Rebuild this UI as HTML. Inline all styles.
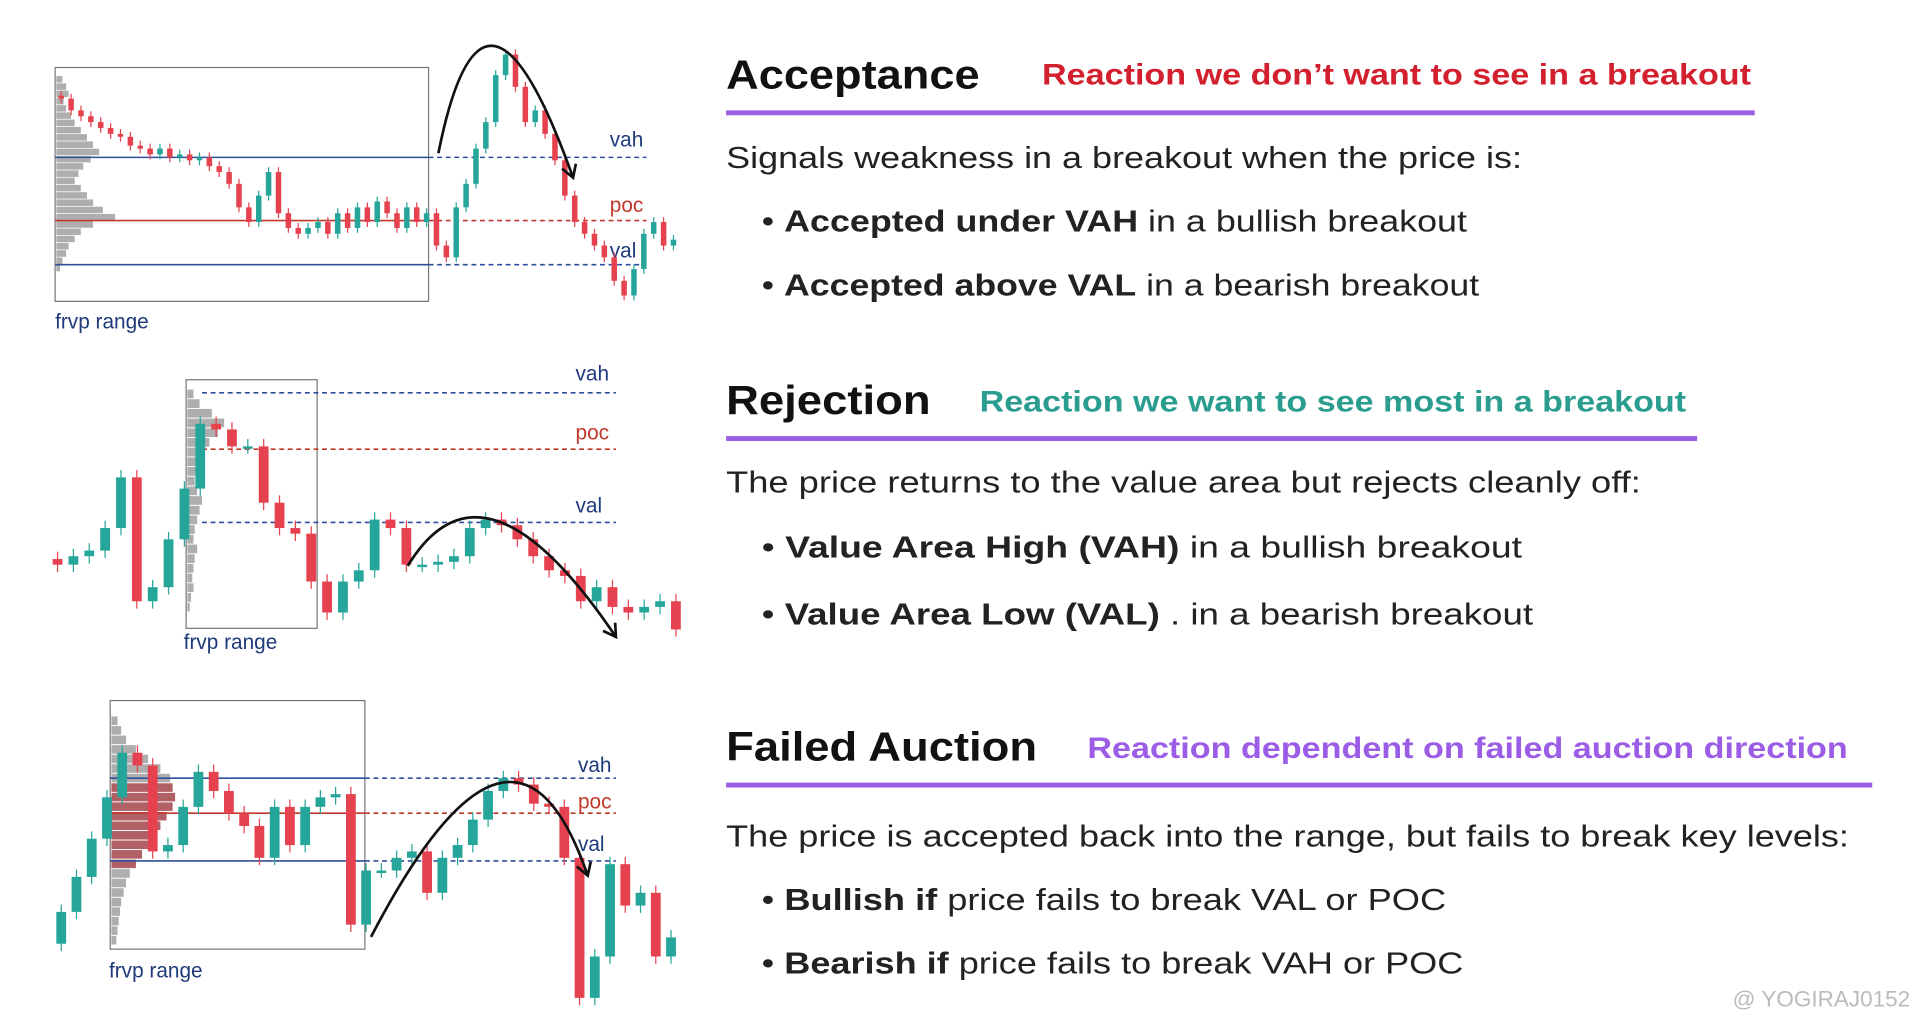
<!DOCTYPE html>
<html><head><meta charset="utf-8"><title>Volume Profile Breakout Reactions</title>
<style>
html,body{margin:0;padding:0;background:#fff;}
svg{display:block;font-family:"Liberation Sans",sans-serif;}
</style></head>
<body>
<svg id="root" width="1920" height="1024" viewBox="0 0 1568 836" xmlns="http://www.w3.org/2000/svg">
<rect width="1568" height="836" fill="#fff"/>
<g id="charts"></g>

<g>
<text x="593" y="72" font-size="33" font-weight="bold" fill="#111" textLength="207" lengthAdjust="spacingAndGlyphs">Acceptance</text>
<text x="851" y="69" font-size="24" font-weight="bold" fill="#d3202f" textLength="579" lengthAdjust="spacingAndGlyphs">Reaction we don’t want to see in a breakout</text>
<rect x="593" y="90" width="840" height="4" fill="#9b5de5"/>
<text x="593" y="137" font-size="25" fill="#222" textLength="650" lengthAdjust="spacingAndGlyphs">Signals weakness in a breakout when the price is:</text>
<text x="622" y="189" font-size="25" fill="#222" textLength="576" lengthAdjust="spacingAndGlyphs">• <tspan font-weight="bold">Accepted under VAH</tspan> in a bullish breakout</text>
<text x="622" y="241" font-size="25" fill="#222" textLength="586" lengthAdjust="spacingAndGlyphs">• <tspan font-weight="bold">Accepted above VAL</tspan> in a bearish breakout</text>
</g>

<g>
<text x="593" y="338" font-size="33" font-weight="bold" fill="#111" textLength="167" lengthAdjust="spacingAndGlyphs">Rejection</text>
<text x="800" y="336" font-size="24" font-weight="bold" fill="#2a9d8f" textLength="577" lengthAdjust="spacingAndGlyphs">Reaction we want to see most in a breakout</text>
<rect x="593" y="356" width="793" height="4" fill="#9b5de5"/>
<text x="593" y="402" font-size="25" fill="#222" textLength="747" lengthAdjust="spacingAndGlyphs">The price returns to the value area but rejects cleanly off:</text>
<text x="622" y="455" font-size="25" fill="#222" textLength="621" lengthAdjust="spacingAndGlyphs">• <tspan font-weight="bold">Value Area High (VAH)</tspan> in a bullish breakout</text>
<text x="622" y="510" font-size="25" fill="#222" textLength="630" lengthAdjust="spacingAndGlyphs">• <tspan font-weight="bold">Value Area Low (VAL)</tspan> . in a bearish breakout</text>
</g>

<g>
<text x="593" y="621" font-size="33" font-weight="bold" fill="#111" textLength="254" lengthAdjust="spacingAndGlyphs">Failed Auction</text>
<text x="888" y="619" font-size="24" font-weight="bold" fill="#9b5de5" textLength="621" lengthAdjust="spacingAndGlyphs">Reaction dependent on failed auction direction</text>
<rect x="593" y="639" width="936" height="4" fill="#9b5de5"/>
<text x="593" y="691" font-size="25" fill="#222" textLength="917" lengthAdjust="spacingAndGlyphs">The price is accepted back into the range, but fails to break key levels:</text>
<text x="622" y="743" font-size="25" fill="#222" textLength="559" lengthAdjust="spacingAndGlyphs">• <tspan font-weight="bold">Bullish if</tspan> price fails to break VAL or POC</text>
<text x="622" y="795" font-size="25" fill="#222" textLength="573" lengthAdjust="spacingAndGlyphs">• <tspan font-weight="bold">Bearish if</tspan> price fails to break VAH or POC</text>
</g>
<text x="1415" y="822" font-size="18" fill="#bbb" textLength="145" lengthAdjust="spacingAndGlyphs">@ YOGIRAJ0152</text>
</svg>
<script>
// ---- Chart 1 (Acceptance) data ----
const closes1=[79,75,73,71,69,67,66,63,62,60,62,59,60,58,59,56,54,50,42,37,46,54,40,35,33,35,37,33,40,35,42,37,44,40,35,42,37,40,29,25,42,50,62,71,87,94,83,71,75,67,58,46,37,33,29,25,17,12,21,33,37,29,31];
const firstOpen1=80;
const profile1=[5,8,10,6,8,12,15,20,25,30,35,28,22,18,15,20,25,30,38,48,30,20,15,10,8,5,3];
const levels1=[59,37.5,22.5];
// ---- Chart 2 (Rejection) data ----
const closes2=[30,33,35,43,61,17,22,39,57,80,78,72,72,52,43,41,24,13,24,28,46,43,30,30,31,33,43,46,44,39,33,28,26,17,22,15,13,15,17,7];
const firstOpen2=32;
const profile2=[5,10,20,30,25,18,14,10,8,6,8,12,10,8,6,5,8,6,5,4,5,3,2];
const levels2=[91,71,45];
// ---- Chart 3 (Failed auction) data ----
const closes3=[29,40,52,65,79,75,48,50,62,73,67,60,56,46,62,50,62,65,66,25,42,42,46,48,35,46,50,58,67,71,69,63,62,46,2,15,44,31,35,15,21];
const firstOpen3=19;
const profile3=[5,8,12,20,30,40,48,50,52,50,45,40,35,30,25,20,15,12,10,8,7,6,5,4];
const levels3=[71,60,45];
const levelNames=['vah','poc','val'];

const NS='http://www.w3.org/2000/svg';
const root=document.getElementById('charts');
function mk(tag,attrs,parent){const e=document.createElementNS(NS,tag);for(const k in attrs)e.setAttribute(k,attrs[k]);(parent||root).appendChild(e);return e;}

function drawChart(cfg){
  const g=mk('g',{});
  
  
  const y=p=>cfg.yBase-p*cfg.k;
  const x=i=>cfg.x0+i*(cfg.x1-cfg.x0)/(cfg.closes.length-1);
  const box=mk('rect',{x:cfg.box[0],y:cfg.box[1],width:cfg.box[2]-cfg.box[0],height:cfg.box[3]-cfg.box[1],fill:'none',stroke:'#777','stroke-width':1},g);
  
  
  const bins=cfg.profile.length, ph=(cfg.profBot-cfg.profTop)/bins;
  cfg.profile.forEach((w,i)=>{
    const py=cfg.profTop+i*ph;
    const inVA = cfg.redVA && py>y(cfg.levels[0]) && py<y(cfg.levels[2]);
    const r=mk('rect',{x:cfg.box[0]+1,y:py,width:w,height:ph*0.9,fill:inVA?'#9e3a40':'#9a9a9a',opacity:0.8},g);
    
    
  });
  cfg.levels.forEach((lv,i)=>{
    const col=i==1?'#c0392b':'#2e4e9e';
    const ly=y(lv);
    if(cfg.solidIn){
      const l1=mk('line',{x1:cfg.box[0],x2:cfg.box[2],y1:ly,y2:ly,stroke:col,'stroke-width':1.3},g);
      
      
    }
    const l2=mk('line',{x1:cfg.solidIn?cfg.box[2]:cfg.lineStart,x2:cfg.lineEnd,y1:ly,y2:ly,stroke:col,'stroke-width':1.3,'stroke-dasharray':'4 3'},g);
    
    
    const t=mk('text',{x:cfg.labelX,y:ly-cfg.labelOff[i],'font-size':17,fill:i==1?'#c0392b':'#1f3a7a'},g);
    t.textContent=levelNames[i];
    
    
  });
  let prev=cfg.firstOpen;
  cfg.closes.forEach((c,i)=>{
    const o=prev; prev=c;
    const up=c>=o, col=up?'#26a69a':'#e5414f';
    const cx=x(i);
    const w=mk('line',{x1:cx,x2:cx,y1:y(Math.max(o,c))-cfg.wick,y2:y(Math.min(o,c))+cfg.wick,stroke:col,'stroke-width':1},g);
    
    
    const top=y(Math.max(o,c)), h=Math.max(2,Math.abs(y(o)-y(c)));
    const b=mk('rect',{x:cx-cfg.cw/2,y:top,width:cfg.cw,height:h,fill:col},g);
    
    
  });
  const a=cfg.arc;
  const p=mk('path',{d:`M${a[0]},${a[1]} Q${a[2]},${a[3]} ${a[4]},${a[5]}`,fill:'none',stroke:'#111','stroke-width':2.2},g);
  
  
  const dx=a[4]-a[2],dy=a[5]-a[3],L=Math.hypot(dx,dy),ux=dx/L,uy=dy/L;
  const hd=mk('path',{d:`M${a[4]-ux*10-uy*6},${a[5]-uy*10+ux*6} L${a[4]},${a[5]} L${a[4]-ux*10+uy*6},${a[5]-uy*10-ux*6}`,fill:'none',stroke:'#111','stroke-width':2.2},g);
  
  
  const ft=mk('text',{x:cfg.frvp[0],y:cfg.frvp[1],'font-size':17,fill:'#1f3a7a'},g);
  ft.textContent='frvp range';
  
  
}

drawChart({name:'acceptance-chart',closes:closes1,firstOpen:firstOpen1,profile:profile1,levels:levels1,
  yBase:270,k:2.4,x0:50,x1:550,cw:4.5,wick:4,box:[45,55,350,246],profTop:62,profBot:222,
  solidIn:true,lineEnd:528,labelX:498,labelOff:[9,7,6],arc:[358,125,395,-60,468,145],frvp:[45,268]});
drawChart({name:'rejection-chart',closes:closes2,firstOpen:firstOpen2,profile:profile2,levels:levels2,
  yBase:530,k:2.3,x0:47,x1:552,cw:8,wick:6,box:[152,310,259,513],profTop:318,profBot:500,
  solidIn:false,lineStart:165,lineEnd:503,labelX:470,labelOff:[10,8,8],arc:[333,462,395,360,503,520],frvp:[150,530]});
drawChart({name:'failed-auction-chart',closes:closes3,firstOpen:firstOpen3,profile:profile3,levels:levels3,
  yBase:820,k:2.6,x0:50,x1:548,cw:8,wick:6,box:[90,572,298,775],profTop:585,profBot:772,redVA:true,
  solidIn:true,lineEnd:503,labelX:472,labelOff:[5,4,8],arc:[303,765,420,540,480,715],frvp:[89,798]});
</script>
</body></html>
